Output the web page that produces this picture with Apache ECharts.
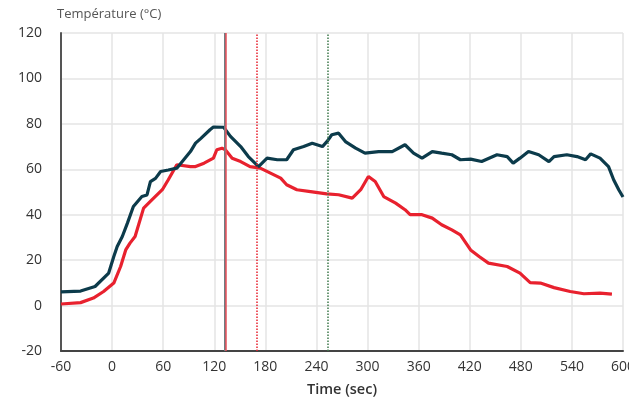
<!DOCTYPE html>
<html>
<head>
<meta charset="utf-8">
<script src="https://cdn.jsdelivr.net/npm/echarts@6/dist/echarts.min.js"></script>
<style>
html,body{margin:0;padding:0;background:#fff;}
#chart{width:629px;height:400px;}
</style>
</head>
<body>
<div id="chart"></div>
<script>
// Series 1 (dark teal)
const timeDark = [-60,-37,-20,-4,2,6,12,18,25,35,41,45,51,57,66,76,92,98,104,115,119,131,139,151,160,172,182,194,205,213,225,235,247,253,258,266,274,286,297,313,329,344,354,364,376,387,399,409,421,434,452,464,471,479,489,501,513,519,534,546,556,562,573,583,589,595,600];
const tempDark = [6.0,6.4,8.4,14.3,21.6,26,30.4,36.3,43.6,48,48.7,54.6,56,59,59.7,60.5,67.8,71.5,73.5,77.4,78.6,78.5,74.5,70,65.6,61.2,64.9,64.2,64.2,68.6,70,71.5,70,72.5,75.2,75.9,72.2,69.3,67.1,67.8,67.8,70.8,67.1,64.9,67.8,67.1,66.4,64.2,64.5,63.4,66.4,65.6,62.7,64.9,67.8,66.4,63.4,65.6,66.4,65.6,64.2,66.8,64.9,61.2,55.4,51,47.8];
// Series 2 (red)
const timeRed = [-60,-37,-22,-10,2,10,16,21,27,37,47,59,66,76,92,98,108,119,123,129,133,141,151,162,174,186,198,205,217,233,252,266,282,292,301,309,319,333,344,350,364,376,387,399,409,413,421,431,442,464,479,491,503,519,538,554,573,587];
const tempRed = [0.7,1.3,3.3,6.2,9.9,17.2,24.5,27.5,30.4,42.9,46.6,51,55.4,62,61.2,61.2,62.7,64.9,68.6,69.3,68.6,64.9,63.4,61.2,60.5,58.3,56.1,53.2,51,50.2,49.2,48.8,47.3,51,56.8,54.6,48,45.1,42.2,40,40,38.5,35.6,33.3,31.1,28.9,24.5,21.6,18.7,17.2,14.3,10.1,9.9,7.9,6.2,5.2,5.5,5.0];
// Vertical event markers (time in sec)
const markerTimes = [132, 134, 170, 253];
// Axis labels
const xAxisTitle = 'Time (sec)';
const yAxisTitle = 'Température (°C)';

const pair = (xs, ys) => xs.map((x, i) => [x, ys[i]]);
const markerStyles = [
  {color:'#6f7c82', width:2, type:'solid'},
  {color:'#e8505a', width:1.5, type:'solid'},
  {color:'#e8212e', width:1.5, type:'dotted'},
  {color:'#3f7a4c', width:1.5, type:'dotted'}
];

const chart = echarts.init(document.getElementById('chart'));
const font = '"Open Sans", "Noto Sans", sans-serif';
chart.setOption({
  animation:false,
  textStyle:{fontFamily:font},
  grid:{left:61, right:6, top:33, bottom:49, containLabel:false, outerBoundsMode:'none'},
  xAxis:{
    type:'value', min:-60, max:600, interval:60,
    name:xAxisTitle, nameLocation:'middle', nameGap:31,
    nameTextStyle:{fontFamily:font, fontSize:14.5, fontWeight:600, color:'#333'},
    axisLine:{show:true, onZero:false, lineStyle:{color:'#444', width:2}},
    axisTick:{show:false},
    axisLabel:{fontFamily:font, fontSize:14, color:'#333', margin:9},
    splitLine:{show:true, lineStyle:{color:'#e4e4e4', width:1.5}}
  },
  yAxis:{
    type:'value', min:-20, max:120, interval:20,
    name:yAxisTitle, nameLocation:'end', nameGap:12,
    nameTextStyle:{fontFamily:font, fontSize:13, color:'#555', align:'left', padding:[0,0,0,-4]},
    axisLine:{show:true, onZero:false, lineStyle:{color:'#555', width:2}},
    axisTick:{show:false},
    axisLabel:{fontFamily:font, fontSize:14, color:'#333', margin:19},
    splitLine:{show:true, lineStyle:{color:'#e4e4e4', width:1.5}}
  },
  series:[
    {
      type:'line', data:pair(timeRed, tempRed), symbol:'none',
      lineStyle:{color:'#e8212e', width:3.2}, z:3,
      markLine:{
        silent:true, symbol:['none','none'], label:{show:false},
        data:markerTimes.map((t,i)=>({xAxis:t, lineStyle:markerStyles[i]}))
      }
    },
    {
      type:'line', data:pair(timeDark, tempDark), symbol:'none',
      lineStyle:{color:'#0c3b4b', width:3.2}, z:4
    }
  ]
});
</script>
</body>
</html>
